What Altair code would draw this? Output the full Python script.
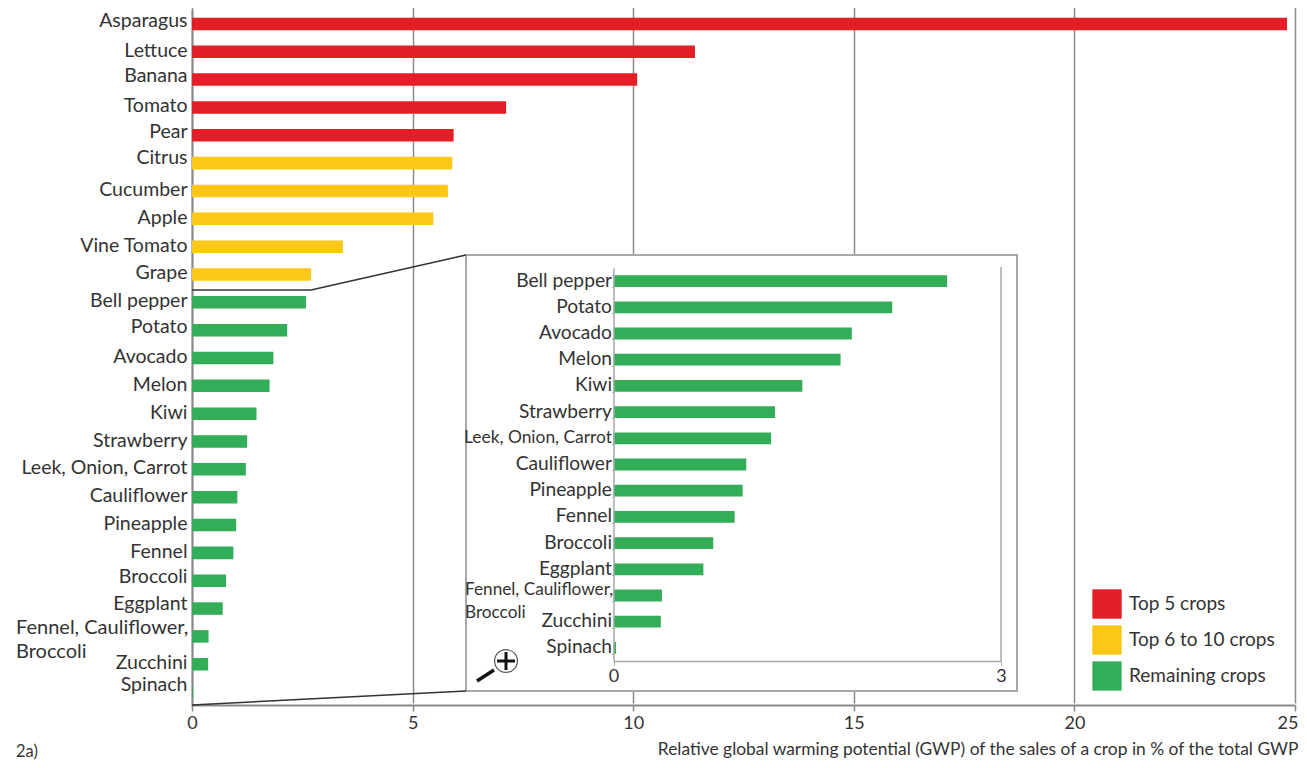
import altair as alt
import pandas as pd

crops_top = ["Asparagus", "Lettuce", "Banana", "Tomato", "Pear", "Citrus", "Cucumber", "Apple", "Vine Tomato", "Grape"]
values_top = [24.82, 11.4, 10.09, 7.12, 5.93, 5.9, 5.8, 5.47, 3.42, 2.7]
crops_rest = ["Bell pepper", "Potato", "Avocado", "Melon", "Kiwi", "Strawberry", "Leek, Onion, Carrot", "Cauliflower",
              "Pineapple", "Fennel", "Broccoli", "Eggplant", "Fennel, Cauliflower, Broccoli", "Zucchini", "Spinach"]
values_rest = [2.583, 2.158, 1.845, 1.758, 1.462, 1.251, 1.22, 1.028, 1.0, 0.938, 0.772, 0.696, 0.375, 0.366, 0.02]
groups = ["Top 5 crops", "Top 6 to 10 crops", "Remaining crops"]
group_colors = ["#e31e26", "#fdc718", "#33ad57"]
x_ticks = [0, 5, 10, 15, 20, 25]
inset_ticks = [0, 3]
x_title = "Relative global warming potential (GWP) of the sales of a crop in % of the total GWP"
long_label = "Fennel, Cauliflower, Broccoli"

FONT = "Lato"
TXT = "#333333"
GRID = "#8a8a8a"
OX, OY = 192, 8  # page position of the plot origin


def px(x):
    return x - OX


def py(y):
    return y - OY


all_crops = crops_top + crops_rest
main_df = pd.DataFrame({
    "crop": all_crops,
    "value": values_top + values_rest,
    "group": [groups[0]] * 5 + [groups[1]] * 5 + [groups[2]] * len(crops_rest),
})
inset_df = pd.DataFrame({"crop": crops_rest, "value": values_rest, "group": groups[2]})

color = alt.Color("group:N", scale=alt.Scale(domain=groups, range=group_colors),
                  legend=alt.Legend(orient="none", legendX=px(1092), legendY=py(589), title=None,
                                    symbolType="square", symbolSize=860, symbolStrokeWidth=0,
                                    symbolOpacity=1, rowPadding=6, labelFontSize=19, labelFont=FONT,
                                    labelColor=TXT, labelOffset=7))

main_label_offset = {
    "condition": [
        {"test": "indexof(['Asparagus','Pear','Potato'], datum.value) >= 0", "value": -3},
        {"test": "indexof(['Banana','Broccoli'], datum.value) >= 0", "value": -4},
        {"test": "indexof(['Citrus','Eggplant'], datum.value) >= 0", "value": -5},
        {"test": "datum.value == 'Spinach'", "value": -7},
    ],
    "value": -1,
}

main_bars = alt.Chart(main_df).mark_bar(opacity=1).encode(
    x=alt.X("value:Q", scale=alt.Scale(domain=[0, 25], nice=False, range=[0, 1103]),
            axis=alt.Axis(values=x_ticks, grid=True, gridColor=GRID, gridWidth=1.5, domainColor=GRID,
                          domainWidth=2, tickColor=GRID, tickSize=6, tickWidth=1.5, labelFontSize=18,
                          labelFont=FONT, labelColor=TXT, labelPadding=3, labelFlush=False,
                          labelAlign={"condition": {"test": "datum.value == 25", "value": "right"},
                                      "value": "center"},
                          labelOffset={"condition": {"test": "datum.value == 25", "value": 3}, "value": 0},
                          title=x_title,
                          titleFont=FONT, titleFontSize=17.4, titleFontWeight="normal", titleColor=TXT,
                          titleAnchor="end", titleAlign="right", titleX=1106, titleY=49,
                          titleBaseline="alphabetic")),
    y=alt.Y("crop:N", sort=all_crops,
            scale=alt.Scale(domain=all_crops, range=[2, 698], paddingInner=0.55),
            axis=alt.Axis(title=None, ticks=False, domainColor=GRID, domainWidth=2, labelFontSize=19.5,
                          labelFont=FONT, labelColor=TXT, labelPadding=5, labelOffset=main_label_offset,
                          labelLimit=300,
                          labelExpr=f"datum.value == '{long_label}' ? '' : datum.value")),
    color=color,
)

frame = alt.Chart().mark_rect(fill="white", stroke="#a8a8a8", strokeWidth=2).encode(
    x=alt.value(px(466)), x2=alt.value(px(1017)), y=alt.value(py(255)), y2=alt.value(py(691)))


def line(x1, y1, x2, y2, col="#333333", w=1.5):
    return alt.Chart().mark_rule(color=col, strokeWidth=w).encode(
        x=alt.value(px(x1)), x2=alt.value(px(x2)), y=alt.value(py(y1)), y2=alt.value(py(y2)))


connectors = [line(192, 290, 311, 290), line(311, 290, 466, 255), line(192, 705, 466, 691)]

inset_x = alt.Scale(domain=[0, 3], nice=False, range=[px(613.5), px(1001)])
inset_bars = alt.Chart(inset_df).mark_bar(opacity=1).encode(
    x=alt.X("value:Q", scale=inset_x,
            axis=alt.Axis(values=inset_ticks, grid=False, orient="bottom", offset=-44, zindex=1,
                          domainColor="#a8a8a8", domainWidth=1.5, tickColor="#a8a8a8", tickSize=4,
                          labelFontSize=18, labelFont=FONT, labelColor=TXT, labelPadding=2, labelFlush=False,
                          title=None)),
    y=alt.Y("crop:N", sort=crops_rest,
            scale=alt.Scale(domain=crops_rest, range=[py(268), py(661)], paddingInner=0.55),
            axis=alt.Axis(title=None, orient="left", offset=-421.5, zindex=1, tickBand="extent",
                          tickColor="#a8a8a8", tickSize=2, domainColor="#a8a8a8", domainWidth=1.5,
                          labelFontSize={"condition": {"test": "datum.value == 'Leek, Onion, Carrot'", "value": 17.4},
                                         "value": 19.2},
                          labelFont=FONT, labelColor=TXT, labelPadding=0, labelOffset=-1, labelLimit=300,
                          labelExpr=f"datum.value == '{long_label}' ? '' : datum.value")),
    color=alt.Color("group:N", scale=alt.Scale(domain=groups, range=group_colors), legend=None),
)

inset_right = alt.Chart(pd.DataFrame({"v": [3]})).mark_rule(color="#a8a8a8", strokeWidth=1.5).encode(
    x=alt.X("v:Q", scale=inset_x, axis=None), y=alt.value(py(267)), y2=alt.value(py(661)))


def note(s, x, y, size=20, align="left"):
    return alt.Chart(pd.DataFrame({"t": [s]})).mark_text(
        font=FONT, fontSize=size, color=TXT, align=align, baseline="middle").encode(
        text="t:N", x=alt.value(px(x)), y=alt.value(py(y)))


notes = [
    note("Fennel, Cauliflower,", 16, 628), note("Broccoli", 16, 652),
    note("Fennel, Cauliflower,", 465, 590, 17.2), note("Broccoli", 465, 613, 17.2),
    note("2a)", 16, 752, 16.5),
]

lens = alt.Chart().mark_point(shape="circle", filled=False, size=520, color="#555555", strokeWidth=1.2, opacity=1,
                              fill="white").encode(x=alt.value(px(506)), y=alt.value(py(661)))
glass = [line(477, 681, 494, 670, "#111111", 3.5), lens,
         line(497, 661, 515, 661, "#111111", 3), line(506, 652, 506, 670, "#111111", 3)]

chart = alt.layer(
    main_bars, frame, *connectors, inset_bars, inset_right, *notes, *glass
).resolve_scale(x="independent", y="independent").properties(
    width=1103, height=697,
    padding={"left": OX - 8, "top": OY - 8, "right": 4, "bottom": 55},
    autosize=alt.AutoSizeParams(type="none"),
    background="white",
).configure_view(stroke=None)

chart.save("out.html", embed_options={"renderer": "svg", "actions": False})
